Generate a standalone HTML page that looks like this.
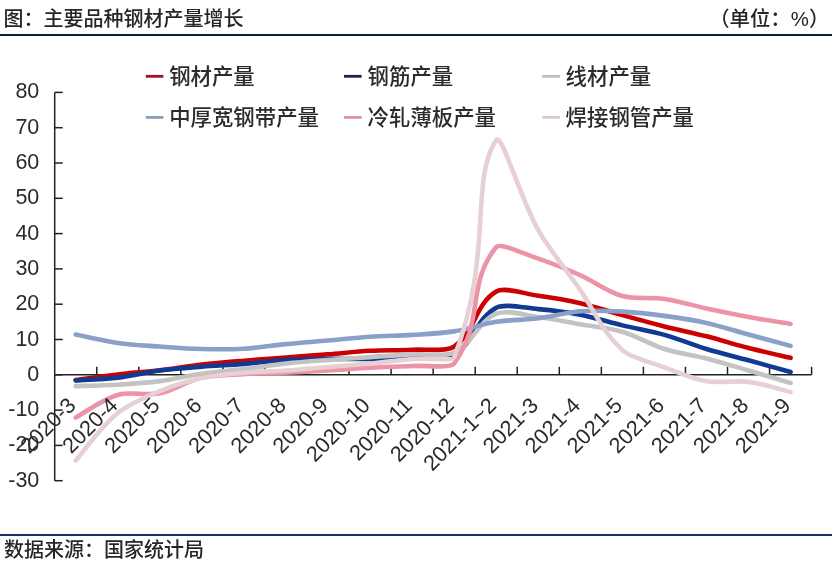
<!DOCTYPE html>
<html><head><meta charset="utf-8"><style>
html,body{margin:0;padding:0;background:#fff;}
body{width:832px;height:570px;position:relative;overflow:hidden;font-family:"Liberation Sans","Noto Sans CJK SC",sans-serif;color:#262626;}
.t{position:absolute;font-size:20px;line-height:20px;white-space:nowrap;font-weight:500;}
.hr{position:absolute;left:0;width:832px;height:2px;background:#1f3864;}
svg{position:absolute;left:0;top:0;}
svg text{font-family:"Liberation Sans","Noto Sans CJK SC",sans-serif;fill:#2b2b2b;}
.yl{font-size:21.5px;}
.xl{font-size:21.7px;}
.lg{font-size:21.4px;font-weight:500;}
</style></head><body>
<div class="t" style="left:3.5px;top:9.3px;">图：主要品种钢材产量增长</div>
<div class="t" style="left:709.2px;top:9.1px;font-size:20.4px;">（单位：%）</div>
<div class="hr" style="top:33.6px;background:#0d1c3a;"></div>
<svg width="832" height="570" viewBox="0 0 832 570">
<line x1="54.7" y1="92.40000000000003" x2="54.7" y2="480.7" stroke="#222222" stroke-width="1.5"/>
<line x1="54.7" y1="480.70" x2="62.7" y2="480.70" stroke="#222222" stroke-width="1.5"/>
<text x="39.3" y="486.70" text-anchor="end" class="yl">-30</text>
<line x1="54.7" y1="445.40" x2="62.7" y2="445.40" stroke="#222222" stroke-width="1.5"/>
<text x="39.3" y="451.40" text-anchor="end" class="yl">-20</text>
<line x1="54.7" y1="410.10" x2="62.7" y2="410.10" stroke="#222222" stroke-width="1.5"/>
<text x="39.3" y="416.10" text-anchor="end" class="yl">-10</text>
<line x1="54.7" y1="374.80" x2="62.7" y2="374.80" stroke="#222222" stroke-width="1.5"/>
<text x="39.3" y="380.80" text-anchor="end" class="yl">0</text>
<line x1="54.7" y1="339.50" x2="62.7" y2="339.50" stroke="#222222" stroke-width="1.5"/>
<text x="39.3" y="345.50" text-anchor="end" class="yl">10</text>
<line x1="54.7" y1="304.20" x2="62.7" y2="304.20" stroke="#222222" stroke-width="1.5"/>
<text x="39.3" y="310.20" text-anchor="end" class="yl">20</text>
<line x1="54.7" y1="268.90" x2="62.7" y2="268.90" stroke="#222222" stroke-width="1.5"/>
<text x="39.3" y="274.90" text-anchor="end" class="yl">30</text>
<line x1="54.7" y1="233.60" x2="62.7" y2="233.60" stroke="#222222" stroke-width="1.5"/>
<text x="39.3" y="239.60" text-anchor="end" class="yl">40</text>
<line x1="54.7" y1="198.30" x2="62.7" y2="198.30" stroke="#222222" stroke-width="1.5"/>
<text x="39.3" y="204.30" text-anchor="end" class="yl">50</text>
<line x1="54.7" y1="163.00" x2="62.7" y2="163.00" stroke="#222222" stroke-width="1.5"/>
<text x="39.3" y="169.00" text-anchor="end" class="yl">60</text>
<line x1="54.7" y1="127.70" x2="62.7" y2="127.70" stroke="#222222" stroke-width="1.5"/>
<text x="39.3" y="133.70" text-anchor="end" class="yl">70</text>
<line x1="54.7" y1="92.40" x2="62.7" y2="92.40" stroke="#222222" stroke-width="1.5"/>
<text x="39.3" y="98.40" text-anchor="end" class="yl">80</text>
<line x1="54.7" y1="374.8" x2="811.6" y2="374.8" stroke="#222222" stroke-width="1.5"/>
<line x1="96.75" y1="374.8" x2="96.75" y2="366.8" stroke="#222222" stroke-width="1.5"/>
<line x1="138.80" y1="374.8" x2="138.80" y2="366.8" stroke="#222222" stroke-width="1.5"/>
<line x1="180.85" y1="374.8" x2="180.85" y2="366.8" stroke="#222222" stroke-width="1.5"/>
<line x1="222.90" y1="374.8" x2="222.90" y2="366.8" stroke="#222222" stroke-width="1.5"/>
<line x1="264.95" y1="374.8" x2="264.95" y2="366.8" stroke="#222222" stroke-width="1.5"/>
<line x1="307.00" y1="374.8" x2="307.00" y2="366.8" stroke="#222222" stroke-width="1.5"/>
<line x1="349.05" y1="374.8" x2="349.05" y2="366.8" stroke="#222222" stroke-width="1.5"/>
<line x1="391.10" y1="374.8" x2="391.10" y2="366.8" stroke="#222222" stroke-width="1.5"/>
<line x1="433.15" y1="374.8" x2="433.15" y2="366.8" stroke="#222222" stroke-width="1.5"/>
<line x1="475.20" y1="374.8" x2="475.20" y2="366.8" stroke="#222222" stroke-width="1.5"/>
<line x1="517.25" y1="374.8" x2="517.25" y2="366.8" stroke="#222222" stroke-width="1.5"/>
<line x1="559.30" y1="374.8" x2="559.30" y2="366.8" stroke="#222222" stroke-width="1.5"/>
<line x1="601.35" y1="374.8" x2="601.35" y2="366.8" stroke="#222222" stroke-width="1.5"/>
<line x1="643.40" y1="374.8" x2="643.40" y2="366.8" stroke="#222222" stroke-width="1.5"/>
<line x1="685.45" y1="374.8" x2="685.45" y2="366.8" stroke="#222222" stroke-width="1.5"/>
<line x1="727.50" y1="374.8" x2="727.50" y2="366.8" stroke="#222222" stroke-width="1.5"/>
<line x1="769.55" y1="374.8" x2="769.55" y2="366.8" stroke="#222222" stroke-width="1.5"/>
<line x1="811.60" y1="374.8" x2="811.60" y2="366.8" stroke="#222222" stroke-width="1.5"/>
<path d="M75.72,380.10 C82.73,379.15 103.70,376.10 117.78,374.45 C131.74,372.81 145.86,371.85 159.82,370.21 C173.90,368.56 187.79,366.16 201.88,364.56 C215.83,362.98 229.89,361.86 243.93,360.68 C257.92,359.50 271.96,358.56 285.97,357.50 C299.99,356.44 314.02,355.44 328.02,354.33 C342.05,353.21 356.01,351.56 370.07,350.80 C384.05,350.03 398.14,350.44 412.12,349.74 C426.18,349.03 446.15,352.12 454.17,346.56 C475.84,331.55 474.59,304.57 496.22,291.49 C504.27,286.63 524.40,293.81 538.27,295.73 C552.44,297.69 566.64,299.98 580.33,303.14 C594.68,306.45 608.30,311.24 622.38,315.14 C636.33,319.01 650.30,322.88 664.42,326.44 C678.33,329.94 692.60,332.77 706.48,336.32 C720.63,339.95 734.37,344.35 748.52,347.97 C762.40,351.52 783.57,356.21 790.58,357.86" fill="none" stroke="#CC0000" stroke-width="4.6" stroke-linecap="round" stroke-linejoin="round"/>
<path d="M75.72,380.45 C82.73,379.98 103.92,379.25 117.78,377.62 C131.96,375.96 145.67,372.41 159.82,370.56 C173.71,368.76 187.83,367.80 201.88,366.68 C215.86,365.57 229.94,364.97 243.93,363.86 C257.97,362.74 271.90,360.80 285.97,359.97 C299.94,359.15 314.00,359.09 328.02,358.92 C342.04,358.74 356.07,359.21 370.07,358.92 C384.10,358.62 398.13,357.91 412.12,357.15 C426.16,356.38 445.13,359.64 454.17,354.33 C474.24,342.53 476.13,318.53 496.22,307.73 C505.26,302.88 524.37,307.98 538.27,309.14 C552.41,310.33 566.61,312.14 580.33,314.79 C594.65,317.56 608.28,322.01 622.38,325.38 C636.31,328.71 650.80,331.08 664.42,334.91 C678.84,338.97 692.20,344.72 706.48,349.03 C720.23,353.19 734.54,356.51 748.52,360.33 C762.57,364.16 783.57,370.03 790.58,371.98" fill="none" stroke="#113A93" stroke-width="4.6" stroke-linecap="round" stroke-linejoin="round"/>
<path d="M75.72,386.10 C82.73,385.86 103.80,385.51 117.78,384.68 C131.83,383.86 145.97,382.96 159.82,381.15 C174.01,379.31 187.73,375.76 201.88,373.74 C215.76,371.76 229.95,370.85 243.93,369.15 C257.98,367.44 271.88,365.04 285.97,363.50 C299.92,361.98 313.99,361.03 328.02,359.97 C342.02,358.92 356.06,358.09 370.07,357.15 C384.09,356.21 398.09,355.09 412.12,354.33 C426.12,353.56 444.11,357.42 454.17,352.56 C472.79,343.57 477.64,321.61 496.22,313.73 C506.32,309.45 524.43,315.16 538.27,316.91 C552.47,318.70 566.31,321.85 580.33,324.32 C594.34,326.79 609.22,327.87 622.38,331.73 C637.29,336.12 649.65,344.32 664.42,349.03 C677.71,353.27 692.65,355.02 706.48,358.56 C720.69,362.20 734.54,366.51 748.52,370.56 C762.57,374.63 783.57,380.86 790.58,382.92" fill="none" stroke="#C3C3C3" stroke-width="4.6" stroke-linecap="round" stroke-linejoin="round"/>
<path d="M75.72,334.56 C82.73,335.97 103.53,341.00 117.78,343.03 C131.56,345.00 145.78,345.56 159.82,346.56 C173.82,347.56 187.83,348.68 201.88,349.03 C215.87,349.38 229.99,349.50 243.93,348.68 C258.02,347.85 271.92,345.45 285.97,344.09 C299.96,342.74 314.02,341.79 328.02,340.56 C342.05,339.32 356.01,337.62 370.07,336.68 C384.05,335.74 398.14,335.79 412.12,334.91 C426.18,334.03 440.46,333.51 454.17,331.38 C468.50,329.16 481.90,324.07 496.22,321.85 C509.94,319.72 524.40,320.07 538.27,318.32 C552.44,316.54 566.11,312.39 580.33,311.26 C594.15,310.16 608.43,310.85 622.38,311.61 C636.46,312.38 650.53,313.98 664.42,315.85 C678.57,317.75 692.78,319.86 706.48,322.91 C720.82,326.10 734.48,330.73 748.52,334.56 C762.51,338.37 783.57,343.97 790.58,345.85" fill="none" stroke="#8AA0C8" stroke-width="4.6" stroke-linecap="round" stroke-linejoin="round"/>
<path d="M75.72,417.51 C82.73,413.75 101.94,399.51 117.78,394.92 C130.09,391.36 146.68,395.86 159.82,393.16 C174.74,390.09 187.00,381.00 201.88,377.62 C215.06,374.64 229.87,374.92 243.93,374.09 C257.90,373.27 271.97,373.27 285.97,372.68 C300.00,372.09 314.02,371.39 328.02,370.56 C342.06,369.74 356.04,368.51 370.07,367.74 C384.07,366.98 398.12,366.68 412.12,365.98 C426.15,365.27 450.56,368.61 454.17,363.50 C485.40,319.34 465.57,285.24 496.22,247.01 C500.03,242.27 524.75,254.12 538.27,258.66 C552.79,263.54 566.83,269.25 580.33,275.25 C594.87,281.73 606.81,291.70 622.38,296.08 C634.93,299.61 650.73,296.89 664.42,298.91 C678.76,301.01 692.39,305.42 706.48,308.44 C720.42,311.42 734.42,314.30 748.52,316.91 C762.46,319.48 783.57,322.79 790.58,323.97" fill="none" stroke="#EC93A7" stroke-width="4.6" stroke-linecap="round" stroke-linejoin="round"/>
<path d="M75.72,460.58 C82.73,452.64 99.38,428.13 117.78,412.92 C128.01,404.46 144.75,397.30 159.82,391.04 C172.83,385.64 187.32,381.15 201.88,377.98 C215.36,375.03 229.81,373.93 243.93,372.68 C257.85,371.45 271.99,371.50 285.97,370.56 C300.02,369.62 314.01,368.21 328.02,367.03 C342.04,365.86 356.09,364.85 370.07,363.50 C384.13,362.15 398.03,359.92 412.12,358.92 C426.07,357.92 452.75,361.22 454.17,357.50 C493.77,254.46 469.51,180.54 496.22,140.06 C501.60,131.91 519.70,196.94 538.27,230.07 C548.38,248.09 566.31,270.08 580.33,290.08 C594.34,310.08 601.02,330.46 622.38,350.09 C630.60,357.65 650.02,362.07 664.42,367.39 C678.06,372.42 691.74,378.62 706.48,381.15 C719.79,383.45 734.91,380.09 748.52,381.86 C762.95,383.74 783.57,390.39 790.58,392.10" fill="none" stroke="#E6D0D3" stroke-width="4.6" stroke-linecap="round" stroke-linejoin="round"/>
<text transform="translate(76.92,406.70) rotate(-45)" text-anchor="end" class="xl">2020-3</text>
<text transform="translate(118.98,406.70) rotate(-45)" text-anchor="end" class="xl">2020-4</text>
<text transform="translate(161.02,406.70) rotate(-45)" text-anchor="end" class="xl">2020-5</text>
<text transform="translate(203.07,406.70) rotate(-45)" text-anchor="end" class="xl">2020-6</text>
<text transform="translate(245.12,406.70) rotate(-45)" text-anchor="end" class="xl">2020-7</text>
<text transform="translate(287.17,406.70) rotate(-45)" text-anchor="end" class="xl">2020-8</text>
<text transform="translate(329.22,406.70) rotate(-45)" text-anchor="end" class="xl">2020-9</text>
<text transform="translate(371.27,406.70) rotate(-45)" text-anchor="end" class="xl">2020-10</text>
<text transform="translate(413.32,406.70) rotate(-45)" text-anchor="end" class="xl">2020-11</text>
<text transform="translate(455.37,406.70) rotate(-45)" text-anchor="end" class="xl">2020-12</text>
<text transform="translate(497.42,406.70) rotate(-45)" text-anchor="end" class="xl">2021-1~2</text>
<text transform="translate(539.48,406.70) rotate(-45)" text-anchor="end" class="xl">2021-3</text>
<text transform="translate(581.53,406.70) rotate(-45)" text-anchor="end" class="xl">2021-4</text>
<text transform="translate(623.58,406.70) rotate(-45)" text-anchor="end" class="xl">2021-5</text>
<text transform="translate(665.62,406.70) rotate(-45)" text-anchor="end" class="xl">2021-6</text>
<text transform="translate(707.68,406.70) rotate(-45)" text-anchor="end" class="xl">2021-7</text>
<text transform="translate(749.73,406.70) rotate(-45)" text-anchor="end" class="xl">2021-8</text>
<text transform="translate(791.78,406.70) rotate(-45)" text-anchor="end" class="xl">2021-9</text>
<line x1="145.8" y1="76.3" x2="163.4" y2="76.3" stroke="#A3101F" stroke-width="2.8"/>
<text x="169.2" y="83.6" class="lg">钢材产量</text>
<line x1="344.0" y1="76.3" x2="361.6" y2="76.3" stroke="#17234F" stroke-width="2.8"/>
<text x="367.6" y="83.6" class="lg">钢筋产量</text>
<line x1="542.3" y1="76.3" x2="559.9" y2="76.3" stroke="#BDBDBD" stroke-width="2.8"/>
<text x="565.6" y="83.6" class="lg">线材产量</text>
<line x1="145.8" y1="117.4" x2="163.4" y2="117.4" stroke="#8B9FB8" stroke-width="2.8"/>
<text x="169.2" y="124.7" class="lg">中厚宽钢带产量</text>
<line x1="344.0" y1="117.4" x2="361.6" y2="117.4" stroke="#D995AB" stroke-width="2.8"/>
<text x="367.6" y="124.7" class="lg">冷轧薄板产量</text>
<line x1="542.3" y1="117.4" x2="559.9" y2="117.4" stroke="#DDC8CE" stroke-width="2.8"/>
<text x="565.6" y="124.7" class="lg">焊接钢管产量</text>
</svg>
<div class="hr" style="top:534.0px;background:#1f2b6b;"></div>
<div class="t" style="left:4px;top:540.0px;font-size:20px;">数据来源：国家统计局</div>
</body></html>
